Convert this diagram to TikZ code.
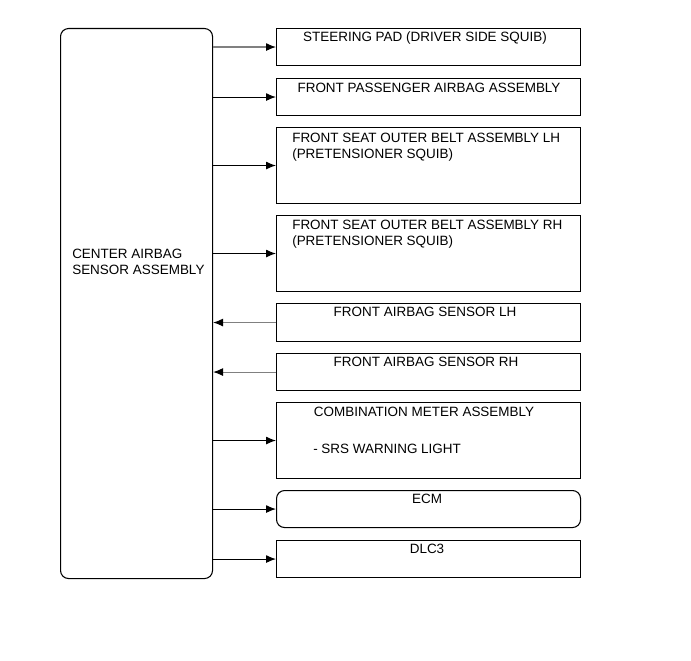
\documentclass[tikz,border=0pt]{standalone}
\usepackage{fontspec}
\setmainfont{Liberation Sans}
\usetikzlibrary{arrows.meta}
\begin{document}
\begin{tikzpicture}[x=0.75pt,y=-0.75pt,>={Latex[length=7.5pt,width=6pt,black]},
  unit/.style={draw,line width=0.8pt,minimum width=228pt,inner sep=0pt,anchor=north west},
  txt/.style={anchor=base,font=\fontsize{10.1pt}{12pt}\selectfont,inner sep=0pt},
  ltxt/.style={txt,anchor=base west,align=left}]

\useasboundingbox (0,0) rectangle (691,660);
\fill[white] (0,0) rectangle (691,660);

\node[unit,rounded corners=6pt,minimum width=114pt,minimum height=412.5pt] (ecu) at (60,28) {};
\node[ltxt] (ecutxt) at (72,274) {CENTER AIRBAG\\SENSOR ASSEMBLY};

\node[unit,minimum height=27.75pt] (pad) at (276,28) {};
\node[txt] (padtxt) at (425,42) {STEERING PAD (DRIVER SIDE SQUIB)};
\node[unit,minimum height=27.75pt] (pass) at (276,78) {};
\node[txt] (passtxt) at (429,92) {FRONT PASSENGER AIRBAG ASSEMBLY};
\node[unit,minimum height=57pt] (beltl) at (276,127) {};
\node[ltxt] (beltltxt) at (292,158) {FRONT SEAT OUTER BELT ASSEMBLY LH\\(PRETENSIONER SQUIB)};
\node[unit,minimum height=57pt] (beltr) at (276,215) {};
\node[ltxt] (beltrtxt) at (292,245) {FRONT SEAT OUTER BELT ASSEMBLY RH\\(PRETENSIONER SQUIB)};
\node[unit,minimum height=28.5pt] (senl) at (276,303) {};
\node[txt] (senltxt) at (425,316) {FRONT AIRBAG SENSOR LH};
\node[unit,minimum height=27.75pt] (senr) at (276,353) {};
\node[txt] (senrtxt) at (426,366) {FRONT AIRBAG SENSOR RH};
\node[unit,minimum height=57pt] (meter) at (276,402) {};
\node[txt] (metertxt) at (424,416) {COMBINATION METER ASSEMBLY};
\node[ltxt] (lamptxt) at (313,453) {- SRS WARNING LIGHT};
\node[unit,rounded corners=6pt,minimum height=27.75pt] (ecm) at (276,490) {};
\node[txt] (ecmtxt) at (427,503) {ECM};
\node[unit,minimum height=27.75pt] (dlc) at (276,540) {};
\node[txt] (dlctxt) at (427,553) {DLC3};

% outputs
\draw[->,gray,line width=0.8pt] (ecu.east |- pad.west) -- (pad.west);
\foreach \n in {pass,beltl,beltr,meter,ecm,dlc}
  \draw[->,line width=0.8pt] (ecu.east |- \n.west) -- (\n.west);
% inputs
\foreach \n in {senl,senr}
  \draw[->,gray,line width=0.8pt] (\n.west) -- (ecu.east |- \n.west);

\end{tikzpicture}
\end{document}
